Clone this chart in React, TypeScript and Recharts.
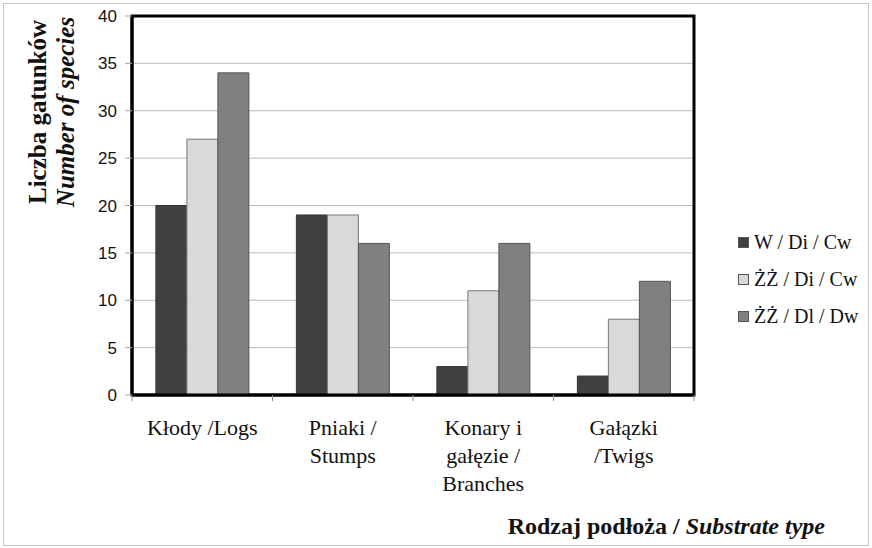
import React from 'react';
import { BarChart, Bar, XAxis, YAxis, CartesianGrid, Legend, ReferenceArea } from 'recharts';

const categories = ['Kłody /Logs', 'Pniaki / Stumps', 'Konary i gałęzie / Branches', 'Gałązki /Twigs'];
const categoryLines = [['Kłody /Logs'], ['Pniaki /', 'Stumps'], ['Konary i', 'gałęzie /', 'Branches'], ['Gałązki', '/Twigs']];
const seriesNames = ['W / Di / Cw', 'ŻŻ / Di / Cw', 'ŻŻ / Dl / Dw'];
const wDiCw = [20, 19, 3, 2];
const zzDiCw = [27, 19, 11, 8];
const zzDlDw = [34, 16, 16, 12];
const yTicks = [0, 5, 10, 15, 20, 25, 30, 35, 40];

const colors = ['#404040', '#d9d9d9', '#808080'];
const serif = '"Liberation Serif", "Times New Roman", serif';
const sans = '"Liberation Sans", Arial, sans-serif';

const data = categories.map((c, i) => ({
  name: c,
  s0: wDiCw[i],
  s1: zzDiCw[i],
  s2: zzDlDw[i],
}));

const XTick = (props: any) => {
  const { x, y, payload, index } = props;
  const lines = categoryLines[index] || [payload.value];
  const off = payload && typeof payload.offset === 'number' && payload.offset > 0 ? payload.offset : 70;
  const last = index === categories.length - 1;
  return (
    <g>
      <line x1={x - off} x2={x - off} y1={y} y2={y + 6} stroke="#8c8c8c" strokeWidth={1} />
      {last && <line x1={x + off} x2={x + off} y1={y} y2={y + 6} stroke="#8c8c8c" strokeWidth={1} />}
      <text textAnchor="middle" fontFamily={serif} fontSize={22} fill="#111">
        {lines.map((l: string, i: number) => (
          <tspan key={i} x={x} y={y + 40 + i * 28}>{l}</tspan>
        ))}
      </text>
    </g>
  );
};

const LegendContent = () => (
  <div style={{ fontFamily: serif, fontSize: 20, color: '#111' }}>
    {seriesNames.map((n, i) => (
      <div key={n} style={{ display: 'flex', alignItems: 'center', height: 37 }}>
        <span style={{ display: 'inline-block', width: 9, height: 9, background: colors[i], border: '1px solid #555', marginRight: 5 }} />
        <span>{n}</span>
      </div>
    ))}
  </div>
);

export default function App() {
  return (
    <div style={{ position: 'absolute', left: 0, top: 0, width: 872, height: 548, background: '#fff' }}>
      <div style={{ position: 'absolute', left: 3, top: 3, width: 864, height: 541, border: '1px solid #c8c8c8' }} />
      <BarChart
        width={872}
        height={548}
        data={data}
        margin={{ top: 16, right: 178, bottom: 0, left: 0 }}
        barCategoryGap="17%"
        barGap={0}
      >
        <CartesianGrid vertical={false} stroke="#bdbdbd" strokeWidth={1} />
        <XAxis
          dataKey="name"
          height={153}
          axisLine={{ stroke: '#000', strokeWidth: 3 }}
          tickLine={false}
          tickSize={0}
          tickMargin={0}
          interval={0}
          tick={<XTick />}
        />
        <YAxis
          width={132}
          domain={[0, 40]}
          ticks={yTicks}
          interval={0}
          axisLine={{ stroke: '#000', strokeWidth: 3 }}
          tickLine={{ stroke: '#a6a6a6' }}
          tickSize={7}
          tickMargin={8}
          tick={{ fontFamily: sans, fontSize: 17, fill: '#111' }}
        />
        <Legend
          layout="vertical"
          verticalAlign="middle"
          align="center"
          content={<LegendContent />}
          wrapperStyle={{ left: 738, top: 224, width: 134 }}
        />
        <Bar dataKey="s0" name={seriesNames[0]} fill={colors[0]} stroke="#333" strokeWidth={1} isAnimationActive={false} />
        <Bar dataKey="s1" name={seriesNames[1]} fill={colors[1]} stroke="#777" strokeWidth={1} isAnimationActive={false} />
        <Bar dataKey="s2" name={seriesNames[2]} fill={colors[2]} stroke="#555" strokeWidth={1} isAnimationActive={false} />
        <ReferenceArea y1={0} y2={40} fill="none" fillOpacity={0} stroke="#000" strokeWidth={3} ifOverflow="visible" />
      </BarChart>
      <div
        style={{
          position: 'absolute',
          left: 52,
          top: 112,
          transform: 'translate(-50%, -50%) rotate(-90deg)',
          transformOrigin: 'center',
          fontFamily: serif,
          fontWeight: 'bold',
          fontSize: 25,
          lineHeight: '28px',
          textAlign: 'center',
          whiteSpace: 'nowrap',
          color: '#111',
        }}
      >
        <div>Liczba gatunków</div>
        <div style={{ fontStyle: 'italic' }}>Number of species</div>
      </div>
      <div
        style={{
          position: 'absolute',
          right: 47,
          top: 512,
          fontFamily: serif,
          fontWeight: 'bold',
          fontSize: 24,
          lineHeight: '28px',
          whiteSpace: 'nowrap',
          color: '#111',
        }}
      >
        Rodzaj podłoża / <span style={{ fontStyle: 'italic' }}>Substrate type</span>
      </div>
    </div>
  );
}
